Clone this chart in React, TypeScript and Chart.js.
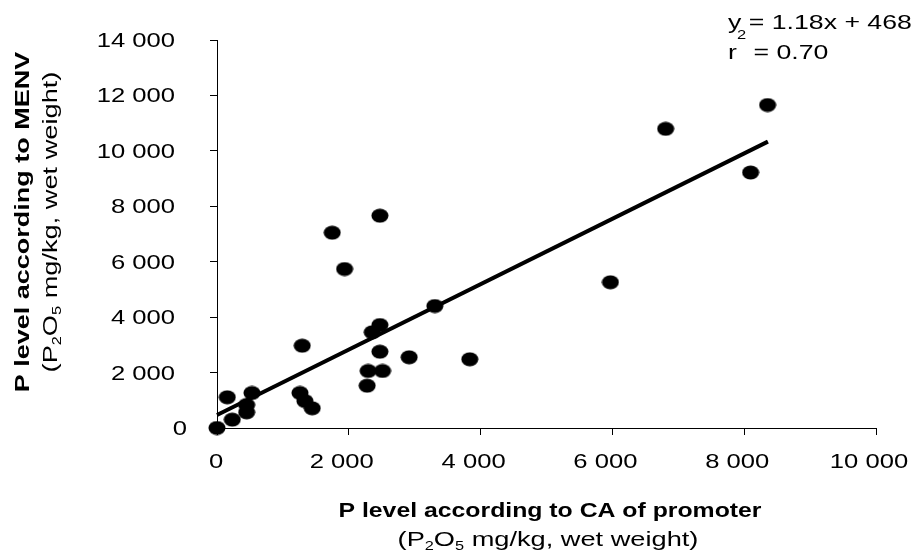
import React, { useEffect, useRef } from "react";
import { Chart, registerables } from "chart.js";

Chart.register(...registerables);

// ---- data ----
const xValues = [0, 156, 232, 450, 450, 531, 1293, 1259, 1334, 1445, 1748, 1936, 2472, 2472, 2355, 2472, 2294, 2512, 2279, 2916, 3836, 3306, 5970, 6808, 8097, 8355];
const yValues = [0, 1108, 300, 830, 566, 1263, 2970, 1263, 974, 711, 7047, 5737, 7660, 3716, 3453, 2753, 2057, 2057, 1526, 2551, 2479, 4402, 5257, 10794, 9217, 11654];
const trendX = [0, 8360];
const trendY = [468, 10333];
const xAxisMax = 10000;
const yAxisMax = 14000;
const tickStep = 2000;
const eqLine1 = "y = 1.18x + 468";
const eqLine2Parts = ["r", "2", " = 0.70"];
const xTitle = "P level according to CA of promoter";
const yTitle = "P level according to MENV";
const unitParts = ["(P", "2", "O", "5", " mg/kg, wet weight)"];

const FONT = "'Liberation Sans', Arial, sans-serif";

function fmt(v: number): string {
  return String(v).replace(/\B(?=(\d{3})+(?!\d))/g, " ");
}

type Seg = { t: string; mode: "n" | "sub" | "sup" };

function drawRich(
  ctx: CanvasRenderingContext2D,
  segs: Seg[],
  x: number,
  y: number,
  size: number,
  bold: boolean,
  sx: number,
  align: "left" | "center" | "right",
  rotate = 0
) {
  const w = bold ? "bold " : "";
  const fontFor = (s: Seg) => (s.mode === "n" ? `${w}${size}px ${FONT}` : `${w}${Math.round(size * 0.62)}px ${FONT}`);
  ctx.save();
  let total = 0;
  for (const s of segs) {
    ctx.font = fontFor(s);
    total += ctx.measureText(s.t).width;
  }
  total *= sx;
  ctx.translate(x, y);
  if (rotate) ctx.rotate(rotate);
  const start = align === "center" ? -total / 2 : align === "right" ? -total : 0;
  ctx.translate(start, 0);
  ctx.scale(sx, 1);
  ctx.fillStyle = "#000";
  ctx.textAlign = "left";
  ctx.textBaseline = "alphabetic";
  let cx = 0;
  for (const s of segs) {
    ctx.font = fontFor(s);
    const dy = s.mode === "sub" ? size * 0.2 : s.mode === "sup" ? -size * 0.95 : 0;
    ctx.fillText(s.t, cx, dy);
    cx += ctx.measureText(s.t).width;
  }
  ctx.restore();
}

const textPlugin = {
  id: "textPlugin",
  afterDraw(chart: any) {
    const ctx: CanvasRenderingContext2D = chart.ctx;
    const xs = chart.scales.x;
    const ys = chart.scales.y;
    // y tick labels
    for (const t of ys.ticks) {
      const py = ys.getPixelForValue(t.value);
      const right = t.value === 0 ? 187 : 175;
      drawRich(ctx, [{ t: fmt(t.value), mode: "n" }], right, py + 7, 20, false, 1.28, "right");
    }
    // x tick labels
    for (const t of xs.ticks) {
      const px = xs.getPixelForValue(t.value);
      const shift = t.value === 0 ? -1 : -7;
      drawRich(ctx, [{ t: fmt(t.value), mode: "n" }], px + shift, 468, 20, false, 1.28, "center");
    }
    // x title
    drawRich(ctx, [{ t: xTitle, mode: "n" }], 550, 517, 20, true, 1.24, "center");
    const unitSegs: Seg[] = unitParts.map((p, i) => ({ t: p, mode: i % 2 === 1 ? "sub" : "n" }));
    drawRich(ctx, unitSegs, 548, 545.5, 20, false, 1.36, "center");
    // y title
    drawRich(ctx, [{ t: yTitle, mode: "n" }], 28.5, 222, 20, true, 1.35, "center", -Math.PI / 2);
    drawRich(ctx, unitSegs, 57, 222, 20, false, 1.36, "center", -Math.PI / 2);
    // equation
    drawRich(ctx, [{ t: eqLine1, mode: "n" }], 728, 28.5, 21, false, 1.27, "left");
    drawRich(
      ctx,
      [
        { t: eqLine2Parts[0], mode: "n" },
        { t: eqLine2Parts[1], mode: "sup" },
        { t: eqLine2Parts[2], mode: "n" },
      ],
      728,
      58.5,
      21,
      false,
      1.27,
      "left"
    );
  },
};

export default function App() {
  const ref = useRef<HTMLCanvasElement | null>(null);
  useEffect(() => {
    document.body.style.margin = "0";
    const canvas = ref.current!;
    const dot = document.createElement("canvas");
    dot.width = 18;
    dot.height = 15;
    const dc = dot.getContext("2d")!;
    dc.fillStyle = "#000";
    dc.beginPath();
    dc.ellipse(9, 7.5, 8.5, 7, 0, 0, Math.PI * 2);
    dc.fill();

    const points = xValues.map((x, i) => ({ x, y: yValues[i] }));
    const trend = trendX.map((x, i) => ({ x, y: trendY[i] }));

    const chart = new Chart(canvas, {
      type: "scatter",
      data: {
        datasets: [
          {
            type: "scatter",
            data: points,
            pointStyle: dot as any,
            pointRadius: 8,
            backgroundColor: "#000",
            borderColor: "#000",
            clip: false,
            order: 2,
          } as any,
          {
            type: "line",
            data: trend,
            borderColor: "#000",
            borderWidth: 4,
            pointRadius: 0,
            fill: false,
            showLine: true,
            clip: false,
            order: 1,
          } as any,
        ],
      },
      options: {
        responsive: false,
        animation: false,
        devicePixelRatio: 1,
        layout: { padding: { top: 40, right: 40, left: 0, bottom: 0 } },
        plugins: { legend: { display: false }, tooltip: { enabled: false } },
        scales: {
          x: {
            type: "linear",
            min: 0,
            max: xAxisMax,
            ticks: { stepSize: tickStep, color: "rgba(0,0,0,0)", font: { size: 8 }, maxRotation: 0 },
            grid: { drawOnChartArea: false, drawTicks: true, tickLength: 7, color: "#000", lineWidth: 1 },
            border: { display: true, color: "#000", width: 1 },
            afterFit: (s: any) => {
              s.height = 126;
            },
          },
          y: {
            type: "linear",
            min: 0,
            max: yAxisMax,
            ticks: { stepSize: tickStep, color: "rgba(0,0,0,0)", font: { size: 8 } },
            grid: { drawOnChartArea: false, drawTicks: true, tickLength: 7, color: "#000", lineWidth: 1 },
            border: { display: true, color: "#000", width: 1 },
            afterFit: (s: any) => {
              s.width = 217;
            },
          },
        },
      },
      plugins: [textPlugin],
    });
    return () => chart.destroy();
  }, []);
  return (
    <div style={{ width: 916, height: 554, background: "#fff" }}>
      <canvas ref={ref} width={916} height={554} style={{ display: "block", width: 916, height: 554 }} />
    </div>
  );
}
